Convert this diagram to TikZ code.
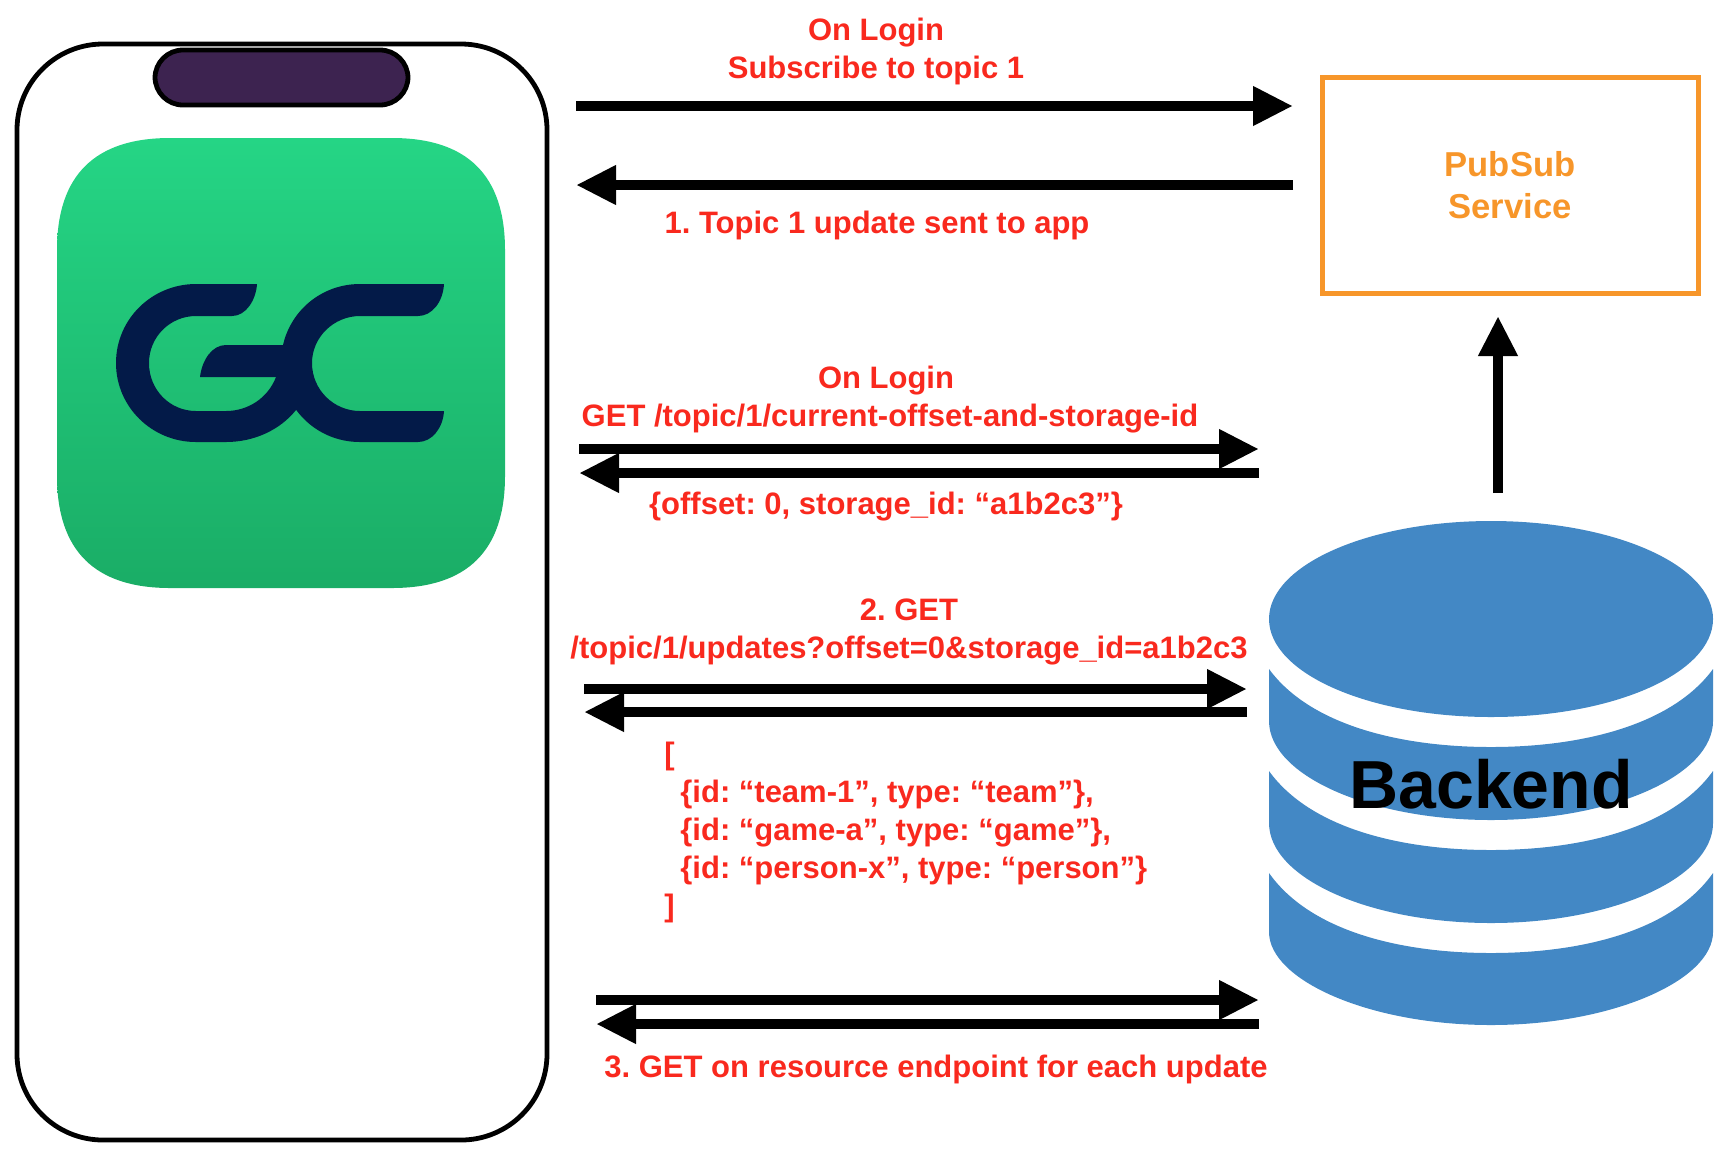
\documentclass[tikz,border=0pt]{standalone}
\usepackage{fontspec}
\setmainfont{Liberation Sans}
\usetikzlibrary{arrows.meta}
\frenchspacing
\definecolor{msgred}{HTML}{F9291E}
\definecolor{pubsuborange}{HTML}{F7962A}
\definecolor{notchpurple}{HTML}{3D2350}
\definecolor{appgreen}{HTML}{25D585}
\definecolor{appgreenlow}{HTML}{1AAD66}
\definecolor{logonavy}{HTML}{031A48}
\definecolor{dbblue}{HTML}{4388C5}
\tikzset{
	msg/.style={text=msgred,font=\bfseries\fontsize{15.5}{19}\selectfont,align=center,inner sep=0pt},
	flow/.style={line width=5pt,-{Triangle[length=20pt,width=18.5pt]}},
}
\begin{document}
\begin{tikzpicture}[x=0.5pt,y=-0.5pt]
	\useasboundingbox (0,0) rectangle (1732,1158);
	% phone
	\draw[line width=2.4pt,rounded corners=43pt] (17,44) rectangle (547,1140);
	\draw[line width=2.4pt,fill=notchpurple,rounded corners=14pt] (155,50) rectangle (408,105);
	% app icon
	\shade[top color=appgreen,middle color=appgreen!96!appgreenlow,bottom color=appgreenlow]
		(170,138) -- (392,138) .. controls (467,138) and (505,175) .. (505,250)
		-- (505,476) .. controls (505,551) and (467,588) .. (392,588)
		-- (170,588) .. controls (95,588) and (57,551) .. (57,476)
		-- (57,250) .. controls (57,175) and (95,138) .. (170,138) -- cycle;
	\fill[logonavy] (257,284) -- (196,284) .. controls (152,284) and (116,319) .. (116,363)
		.. controls (116,407) and (152,442) .. (196,442) -- (226,442)
		.. controls (254,442) and (280,430) .. (296,410) -- (300,377) -- (276,377)
		.. controls (268,398) and (248,411) .. (226,411) -- (196,411)
		.. controls (170,411) and (149,390) .. (149,363)
		.. controls (149,337) and (170,316) .. (196,316) -- (232,316)
		.. controls (246,316) and (256,300) .. (257,284) -- cycle;
	\fill[logonavy] (200,377) -- (295,377) -- (295,345) -- (226,345)
		.. controls (212,345) and (202,360) .. (200,377) -- cycle;
	\fill[logonavy] (444,284) -- (360,284) .. controls (316,284) and (281,319) .. (281,363)
		.. controls (281,407) and (316,442) .. (360,442) -- (418,442)
		.. controls (432,442) and (443,428) .. (444,411) -- (360,411)
		.. controls (334,411) and (312,390) .. (312,363)
		.. controls (312,337) and (334,316) .. (360,316) -- (418,316)
		.. controls (432,316) and (443,302) .. (444,284) -- cycle;
	% backend
	\fill[dbblue] (1491,619) ellipse [x radius=222,y radius=98];
	\fill[dbblue] (1269,669) -- (1269,721) .. controls (1269,775) and (1369,820) .. (1491,820)
		.. controls (1613,820) and (1713,775) .. (1713,721) -- (1713,669)
		.. controls (1672,725) and (1582,747) .. (1491,747)
		.. controls (1400,747) and (1310,725) .. (1269,669) -- cycle;
	\fill[dbblue] (1269,771) -- (1269,823) .. controls (1269,878) and (1369,923) .. (1491,923)
		.. controls (1613,923) and (1713,878) .. (1713,823) -- (1713,771)
		.. controls (1672,828) and (1582,850) .. (1491,850)
		.. controls (1400,850) and (1310,828) .. (1269,771) -- cycle;
	\fill[dbblue] (1269,873) -- (1269,932) .. controls (1269,980) and (1369,1025) .. (1491,1025)
		.. controls (1613,1025) and (1713,980) .. (1713,932) -- (1713,873)
		.. controls (1672,931) and (1582,953) .. (1491,953)
		.. controls (1400,953) and (1310,931) .. (1269,873) -- cycle;
	\node[font=\bfseries\fontsize{34}{40}\selectfont,inner sep=0pt] (backend) at (1491,784) {Backend};
	% pubsub
	\node[draw=pubsuborange,line width=2.5pt,minimum width=188pt,minimum height=108pt,
		text=pubsuborange,font=\bfseries\fontsize{17.3}{21}\selectfont,align=center] (pubsub) at (1510,185) {PubSub\\Service};
	% arrow ends
	\coordinate (subL) at (576,106);
	\coordinate (subR) at (1293,106);
	\coordinate (updL) at (576,185);
	\coordinate (updR) at (1293,185);
	\coordinate (offsetL) at (579,449);
	\coordinate (offsetR) at (1259,449);
	\coordinate (replyL) at (579,473);
	\coordinate (replyR) at (1259,473);
	\coordinate (getL) at (584,689);
	\coordinate (getR) at (1247,689);
	\coordinate (listL) at (584,712);
	\coordinate (listR) at (1247,712);
	\coordinate (resL) at (596,1000);
	\coordinate (resR) at (1259,1000);
	\coordinate (bodyL) at (596,1024);
	\coordinate (bodyR) at (1259,1024);
	\coordinate (dbtop) at (1498,493);
	\coordinate (psbottom) at (1498,316);
	\draw[flow] (subL) to (subR);
	\draw[flow] (updR) to (updL);
	\draw[flow] (offsetL) to (offsetR);
	\draw[flow] (replyR) to (replyL);
	\draw[flow] (getL) to (getR);
	\draw[flow] (listR) to (listL);
	\draw[flow] (resL) to (resR);
	\draw[flow] (bodyR) to (bodyL);
	\draw[flow] (dbtop) to (psbottom);
	% messages
	\node[msg] (login) at (876,51) {On Login\\Subscribe to topic 1};
	\node[msg] (update) at (877,225) {1. Topic 1 update sent to app};
	\node[msg] (again) at (886,381) {On Login};
	\node[msg] (current) at (890,419) {GET /topic/1/current-offset-and-storage-id};
	\node[msg] (offset) at (886,507) {\{offset: 0, storage\_id: “a1b2c3”\}};
	\node[msg] (updates) at (909,632) {2. GET\\/topic/1/updates?offset=0\&storage\_id=a1b2c3};
	\node[msg,align=left,anchor=west] (list) at (664,832) {[\\
		\hspace*{8pt}\{id: “team-1”, type: “team”\},\\
		\hspace*{8pt}\{id: “game-a”, type: “game”\},\\
		\hspace*{8pt}\{id: “person-x”, type: “person”\}\\
		]};
	\node[msg] (resource) at (936,1069) {3. GET on resource endpoint for each update};
\end{tikzpicture}
\end{document}
